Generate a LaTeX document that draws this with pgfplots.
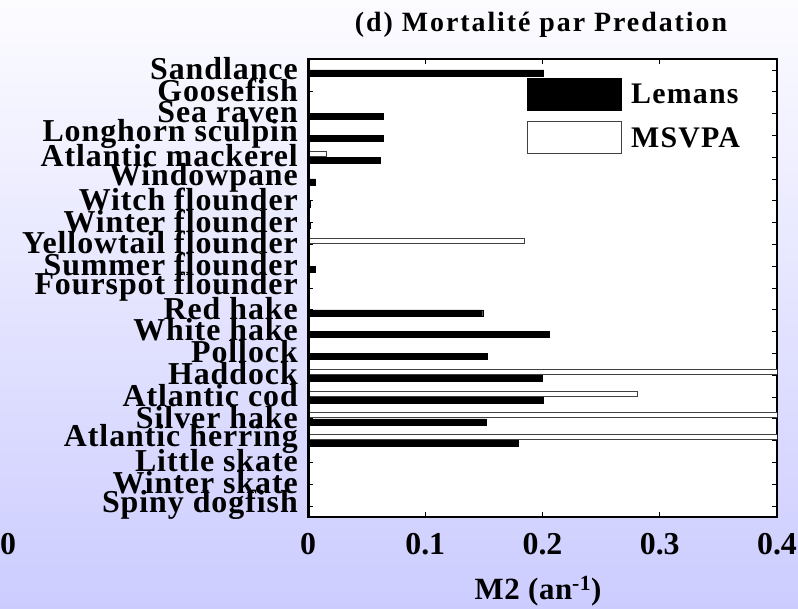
\documentclass[border=0pt]{standalone}
\usepackage{fontspec}
\setmainfont{Liberation Serif}
\newfontfamily\catfont{Liberation Serif}[LetterSpace=3]
\newfontfamily\legfont{Liberation Serif}[LetterSpace=4]
\newfontfamily\titfont{Liberation Serif}[LetterSpace=7]
\newfontfamily\labfont{Liberation Serif}[LetterSpace=2]
\usepackage{pgfplots}
\usepackage{pgfplotstable}
\pgfplotsset{compat=1.18}
\definecolor{bgbot}{RGB}{204,204,255}
\definecolor{bgtop}{RGB}{252,252,255}
\pgfplotstableread{
y lemans msvpa
0  0      0
1  0      0
2  0      0
3  0.179  0.45
4  0.152  0.45
5  0.201  0.281
6  0.1995 0.45
7  0.153  0
8  0.206  0
9  0.149  0
10 0.001  0
11 0.006  0
12 0      0.185
13 0.002  0
14 0.002  0
15 0.006  0
16 0.062  0.016
17 0.064  0
18 0.064  0
19 0      0
20 0.201  0
}\data
\begin{document}
\begin{tikzpicture}
\shade[top color=bgtop, bottom color=bgbot] (0,0) rectangle (798bp,609bp);
\begin{axis}[
  at={(308bp,92bp)}, anchor=south west,
  scale only axis, width=469bp, height=458bp,
  xmin=0, xmax=0.4, ymin=-0.5, ymax=20.5,
  xbar, bar width=6bp,
  axis background/.style={fill=white},
  /pgf/number format/assume math mode=true,
  xtick={0,0.1,0.2,0.3,0.4},
  xticklabels={0,0.1,0.2,0.3,0.4},
  ytick={0,...,20},
  yticklabels={Spiny dogfish, Winter skate, Little skate, Atlantic herring, Silver hake, Atlantic cod, Haddock, Pollock, White hake, Red hake, Fourspot flounder, Summer flounder, Yellowtail flounder, Winter flounder, Witch flounder, Windowpane, Atlantic mackerel, Longhorn sculpin, Sea raven, Goosefish, Sandlance},
  xticklabel style={font=\bfseries\fontsize{32}{32}\selectfont, inner sep=0pt, yshift=-16bp},
  yticklabel style={font=\catfont\bfseries\fontsize{32}{20}\selectfont, inner sep=0pt, xshift=-10bp, yshift=1.5bp},
  tick align=inside, major tick length=5bp,
  tick style={black, line width=0.8bp},
  axis line style={line width=1.2bp},
  legend style={draw=none, fill=none, at={(0.467,0.958)}, anchor=north west,
    font=\legfont\bfseries\fontsize{30}{30}\selectfont, row sep=10bp, inner sep=0pt,
    nodes={inner sep=1pt}},
  legend image code/.code={\draw[#1, line width=1bp] (0bp,-16bp) rectangle (94bp,16bp); \path (102bp,0bp);},
  legend cell align=left,
]
\addplot[fill=black, draw=black, bar shift=-3bp, bar width=6bp] table[x=lemans, y=y] {\data};
\addplot[fill=white, draw=black!75, line width=1bp, bar shift=3.5bp, bar width=5bp] table[x=msvpa, y=y] {\data};
\legend{Lemans, MSVPA}
\draw[line width=3bp] (rel axis cs:0,0) -- (rel axis cs:0,1);
\end{axis}
\node[font=\titfont\bfseries\fontsize{28}{28}\selectfont] at (541bp,584bp) {(d) Mortalité par Predation};
\node[font=\labfont\bfseries\fontsize{31}{31}\selectfont] at (538bp,18bp) {M2 (an\textsuperscript{-1})};
\node[font=\bfseries\fontsize{32}{32}\selectfont, inner sep=0pt, anchor=north west] at (0bp,76bp) {0};
\pgfresetboundingbox
\path (0,0) rectangle (798bp,609bp);
\end{tikzpicture}
\end{document}
